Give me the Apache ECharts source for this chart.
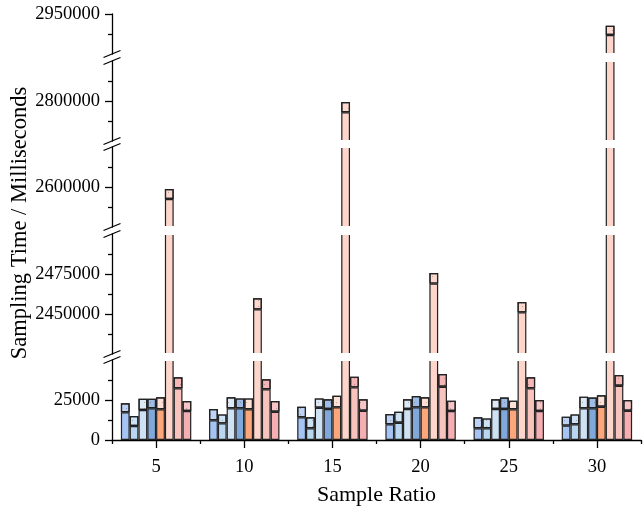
<!DOCTYPE html>
<html>
<head>
<meta charset="utf-8">
<script src="https://cdn.jsdelivr.net/npm/echarts@6/dist/echarts.min.js"></script>
<style>
  html, body { margin: 0; padding: 0; background: #fff; }
  #chart { width: 643px; height: 514px; }
</style>
</head>
<body>
<div id="chart"></div>
<script>
// Sample ratios along the x axis
const ratios = ['5', '10', '15', '20', '25', '30'];

// Eight samplers; each bar has a solid lower part and a dotted box on top
const samplerNames = ['S1', 'S2', 'S3', 'S4', 'S5', 'S6', 'S7', 'S8'];

// Lower (solid) value of each bar, ms
const lowerS1 = [17300, 12300, 14200, 9800, 7300, 9000];
const lowerS2 = [8750, 10400, 7300, 10800, 7300, 9800];
const lowerS3 = [18750, 19800, 20200, 19400, 19400, 19800];
const lowerS4 = [19800, 19800, 19400, 20400, 19400, 19800];
const lowerS5 = [19200, 19200, 20400, 20400, 19200, 20800];
const lowerS6 = [2592500, 2452900, 2793000, 2469000, 2451000, 2936900];
const lowerS7 = [32300, 31700, 32900, 33300, 32300, 33900];
const lowerS8 = [18100, 17700, 18300, 18100, 18100, 18300];

// Top of each bar (top of the box), ms
const upperS1 = [22900, 19400, 20800, 16200, 14200, 14600];
const upperS2 = [15000, 16000, 14200, 17700, 13500, 16000];
const upperS3 = [25800, 26700, 26000, 25400, 25400, 27100];
const upperS4 = [25800, 26000, 25400, 27500, 26500, 26500];
const upperS5 = [26700, 26000, 27700, 26700, 24600, 27900];
const upperS6 = [2598750, 2459800, 2799400, 2475600, 2457500, 2942700];
const upperS7 = [39200, 37900, 39600, 41200, 39200, 40600];
const upperS8 = [24400, 24400, 25400, 24600, 25000, 25000];

const lowerValues = [lowerS1, lowerS2, lowerS3, lowerS4, lowerS5, lowerS6, lowerS7, lowerS8];
const upperValues = [upperS1, upperS2, upperS3, upperS4, upperS5, upperS6, upperS7, upperS8];

// Broken y axis: value range of each segment, bottom to top
const segmentRanges = [[0, 50000], [2425000, 2500000], [2575000, 2625000], [2775000, 2825000], [2925000, 2950000]];
const segmentMajorTicks = [[0, 25000], [2450000, 2475000], [2600000], [2800000], [2950000]];
const segmentMinorTicks = [[12500, 37500], [2437500, 2462500, 2487500], [2587500, 2612500], [2787500, 2812500], [2937500]];

// Styling
const baseColors = ['#a5c3f3', '#b9d7f1', '#cfe2f3', '#81a8da', '#fba67b', '#fdd5cb', '#f9c3bd', '#f5afb3'];
const boxColors  = ['#bdd3f6', '#cde2f5', '#dde9f5', '#9dbce6', '#fde0d6', '#fdd8cf', '#f5b6b8', '#f8c5c6'];
const FONT = '"Liberation Serif", "Times New Roman", serif';
const GRID_LEFT = 112, GRID_WIDTH = 529;
const segmentTops = [360, 234, 147, 61, 14];
const segmentHeights = [80, 120, 80, 80, 40];
const AXIS_STYLE = { color: '#000', width: 1.3 };

const grids = [], xAxes = [], yAxes = [], series = [];

segmentRanges.forEach((range, i) => {
  grids.push({ left: GRID_LEFT, width: GRID_WIDTH, top: segmentTops[i], height: segmentHeights[i] });
  const isBottom = i === 0;
  xAxes.push({
    type: 'category', gridIndex: i, data: ratios, boundaryGap: true,
    show: isBottom,
    axisLine: { show: isBottom, onZero: false, lineStyle: AXIS_STYLE },
    axisTick: { show: isBottom, alignWithLabel: true, length: 8, lineStyle: AXIS_STYLE },
    axisLabel: { show: isBottom, fontFamily: FONT, fontSize: 18.5, color: '#000', margin: 18 },
    splitLine: { show: false },
    name: isBottom ? 'Sample Ratio' : '',
    nameLocation: 'middle', nameGap: 44,
    nameTextStyle: { fontFamily: FONT, fontSize: 22, color: '#000' }
  });
  yAxes.push({
    type: 'value', gridIndex: i, min: range[0], max: range[1], position: 'left',
    axisLine: { show: true, lineStyle: AXIS_STYLE },
    axisTick: { show: true, customValues: segmentMajorTicks[i], length: 7, lineStyle: AXIS_STYLE },
    axisLabel: { customValues: segmentMajorTicks[i], fontFamily: FONT, fontSize: 18.5, color: '#000', margin: 12,
                 formatter: v => String(v) },
    splitLine: { show: false }
  });
  yAxes.push({
    type: 'value', gridIndex: i, min: range[0], max: range[1], position: 'left',
    axisLine: { show: false },
    axisTick: { show: true, customValues: segmentMinorTicks[i], length: 4, lineStyle: AXIS_STYLE },
    axisLabel: { show: false },
    splitLine: { show: false }
  });

  samplerNames.forEach((name, j) => {
    const stack = 'seg' + i + '_' + j;
    const lowerData = ratios.map((r, g) => upperValues[j][g] > range[0] ? lowerValues[j][g] : '-');
    const boxData = ratios.map((r, g) => {
      const lo = lowerValues[j][g], hi = upperValues[j][g];
      return (hi > range[0] && lo < range[1]) ? hi - lo : '-';
    });
    const common = {
      type: 'bar', xAxisIndex: i, yAxisIndex: 2 * i, stack: stack,
      barWidth: 8.8, barGap: '0%', silent: true, animation: false
    };
    series.push(Object.assign({}, common, {
      name: name, data: lowerData,
      itemStyle: { color: baseColors[j], borderColor: '#222', borderWidth: 1.2 }
    }));
    series.push(Object.assign({}, common, {
      name: name + ' box', data: boxData,
      itemStyle: {
        color: boxColors[j], borderColor: '#222', borderWidth: 1.2,
        decal: { symbol: 'circle', symbolSize: 1, dashArrayX: [1, 5], dashArrayY: [1, 5], color: 'rgba(90,70,70,0.5)' }
      }
    }));
  });
});

// Extra category axis in the bottom grid carrying the short ticks between groups
xAxes.push({
  type: 'category', gridIndex: 0, data: ratios, boundaryGap: true, position: 'bottom',
  axisLine: { show: false },
  axisTick: { show: true, alignWithLabel: false, length: 4, lineStyle: AXIS_STYLE },
  axisLabel: { show: false },
  splitLine: { show: false }
});

// Break gaps: blank out the bars between segments and mark the axis with slashes
const graphics = [];
for (let i = 0; i < segmentTops.length - 1; i++) {
  const lowerTop = segmentTops[i];
  const upperBottom = segmentTops[i + 1] + segmentHeights[i + 1];
  graphics.push({
    type: 'rect', z: 100, silent: true,
    shape: { x: GRID_LEFT + 1.5, y: upperBottom - 1, width: 643 - GRID_LEFT, height: lowerTop - upperBottom + 2 },
    style: { fill: '#fff' }
  });
  [upperBottom, lowerTop].forEach(y => {
    graphics.push({
      type: 'line', z: 101, silent: true,
      shape: { x1: GRID_LEFT - 8.5, y1: y + 3.5, x2: GRID_LEFT + 8.5, y2: y - 3.5 },
      style: { stroke: '#000', lineWidth: 1.3 }
    });
  });
}
graphics.push({
  type: 'text', z: 101, silent: true,
  x: 20, y: 223, rotation: Math.PI / 2,
  style: { text: 'Sampling Time / Milliseconds', font: '22.5px ' + FONT, fill: '#000',
           textAlign: 'center', textVerticalAlign: 'middle' }
});

const chart = echarts.init(document.getElementById('chart'), null, { renderer: 'canvas' });
chart.setOption({
  animation: false,
  backgroundColor: '#fff',
  grid: grids,
  xAxis: xAxes,
  yAxis: yAxes,
  series: series,
  graphic: graphics
});
</script>
</body>
</html>
